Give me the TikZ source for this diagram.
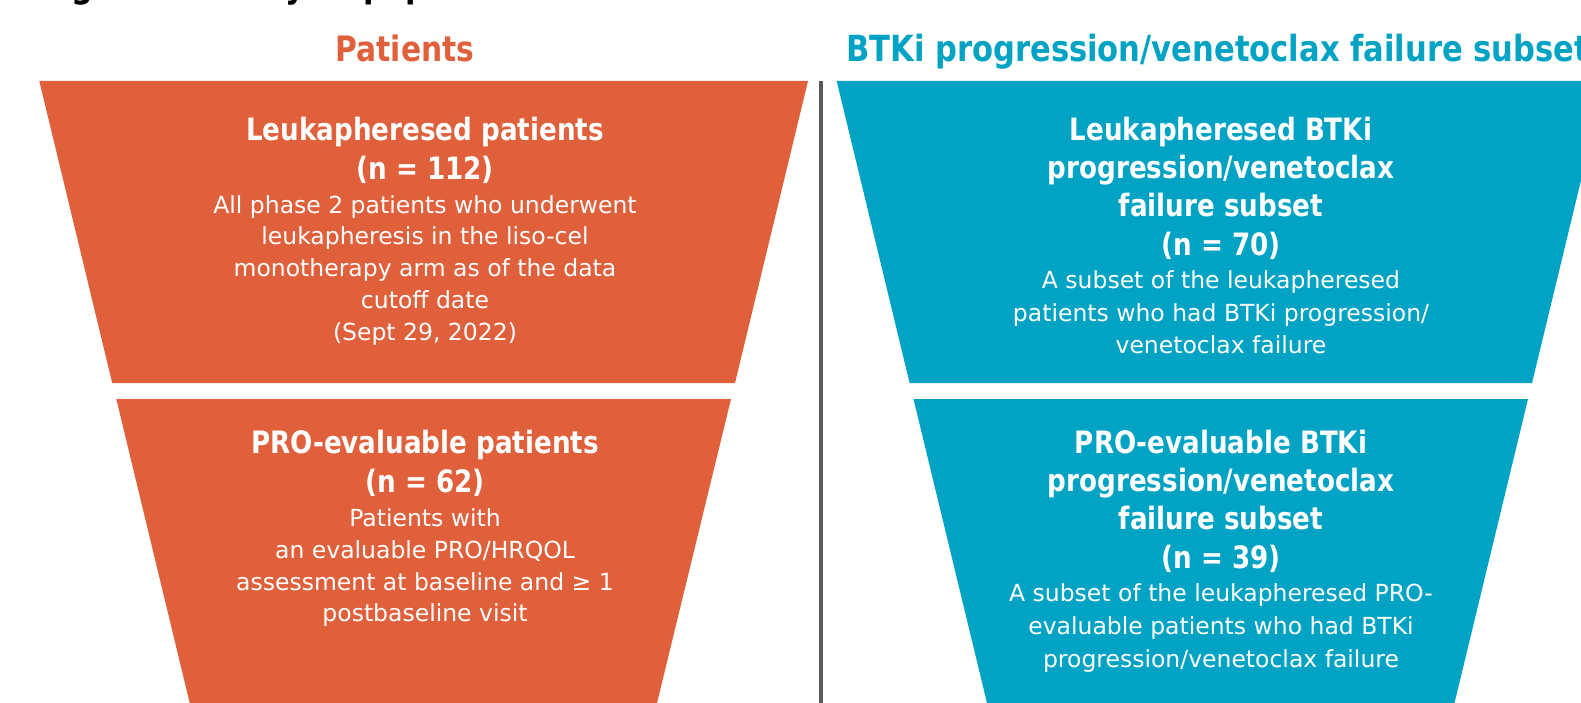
\documentclass[tikz,border=0pt]{standalone}
\usepackage{fontspec}
\setmainfont{DejaVu Sans}[BoldFeatures={FakeStretch=0.85}]
\definecolor{funnelorange}{HTML}{E0603B}
\definecolor{funnelteal}{HTML}{00A3C4}
\definecolor{divider}{HTML}{5A5A5A}
\begin{document}
\begin{tikzpicture}[x=1pt,y=-1pt,
  every node/.style={inner sep=0pt,anchor=base},
  figtitle/.style={font=\fontsize{36}{40}\selectfont\bfseries,text=black},
  coltitle/.style={font=\fontsize{35}{40}\selectfont\bfseries},
  headline/.style={font=\fontsize{30.8}{36}\selectfont\bfseries,text=white},
  bodyline/.style={font=\fontsize{23.5}{28}\selectfont,text=white}]
\useasboundingbox (0,0) rectangle (1581,703);
\clip (0,0) rectangle (1581,703);

% figure caption (runs off the top edge)
\node[figtitle,anchor=base west] (cap) at (40,-2.5) {Figure 1. Analysis populations};

% column titles
\node[coltitle,text=funnelorange] (ptitle) at (405,61.5) {Patients};
\node[coltitle,font=\fontsize{36}{40}\selectfont\bfseries,text=funnelteal,anchor=base west] (btitle) at (846,61.5) {BTKi progression/venetoclax failure subset};

% funnel stages
\fill[funnelorange] (39.3,81) -- (808,81) -- (735,383) -- (112.2,383) -- cycle;
\fill[funnelorange] (116.3,399) -- (731,399) -- (655.3,710) -- (191.4,710) -- cycle;
\fill[funnelteal] (836.7,81) -- (1605,81) -- (1532,383) -- (909.6,383) -- cycle;
\fill[funnelteal] (913.5,399) -- (1528,399) -- (1452.8,710) -- (988.7,710) -- cycle;

% divider between the two columns
\draw[divider,line width=4pt] (821,81) -- (821,710);

% left, upper stage
\node[headline] (l1a) at (425,140.7) {Leukapheresed patients};
\node[headline] (l1b) at (425,180) {(n = 112)};
\node[bodyline] (l1c) at (425,213.3) {All phase 2 patients who underwent};
\node[bodyline] (l1d) at (425,245) {leukapheresis in the liso-cel};
\node[bodyline] (l1e) at (425,276.7) {monotherapy arm as of the data};
\node[bodyline] (l1f) at (425,308.4) {cutoff date};
\node[bodyline] (l1g) at (425,340) {(Sept 29, 2022)};

% left, lower stage
\node[headline] (l2a) at (425,453.4) {PRO-evaluable patients};
\node[headline] (l2b) at (425,492.7) {(n = 62)};
\node[bodyline] (l2c) at (425,526.9) {Patients with};
\node[bodyline] (l2d) at (425,558.1) {an evaluable PRO/HRQOL};
\node[bodyline] (l2e) at (425,590.4) {assessment at baseline and ≥ 1};
\node[bodyline] (l2f) at (425,621.6) {postbaseline visit};

% right, upper stage
\node[headline] (r1a) at (1221,140.7) {Leukapheresed BTKi};
\node[headline] (r1b) at (1221,178.3) {progression/venetoclax};
\node[headline] (r1c) at (1221,216.4) {failure subset};
\node[headline] (r1d) at (1221,255) {(n = 70)};
\node[bodyline] (r1e) at (1221,288.9) {A subset of the leukapheresed};
\node[bodyline] (r1f) at (1221,321.2) {patients who had BTKi progression/};
\node[bodyline] (r1g) at (1221,353.4) {venetoclax failure};

% right, lower stage
\node[headline] (r2a) at (1221,453.4) {PRO-evaluable BTKi};
\node[headline] (r2b) at (1221,491.6) {progression/venetoclax};
\node[headline] (r2c) at (1221,529.9) {failure subset};
\node[headline] (r2d) at (1221,568) {(n = 39)};
\node[bodyline] (r2e) at (1221,601.5) {A subset of the leukapheresed PRO-};
\node[bodyline] (r2f) at (1221,634.8) {evaluable patients who had BTKi};
\node[bodyline] (r2g) at (1221,667) {progression/venetoclax failure};
\end{tikzpicture}
\end{document}
